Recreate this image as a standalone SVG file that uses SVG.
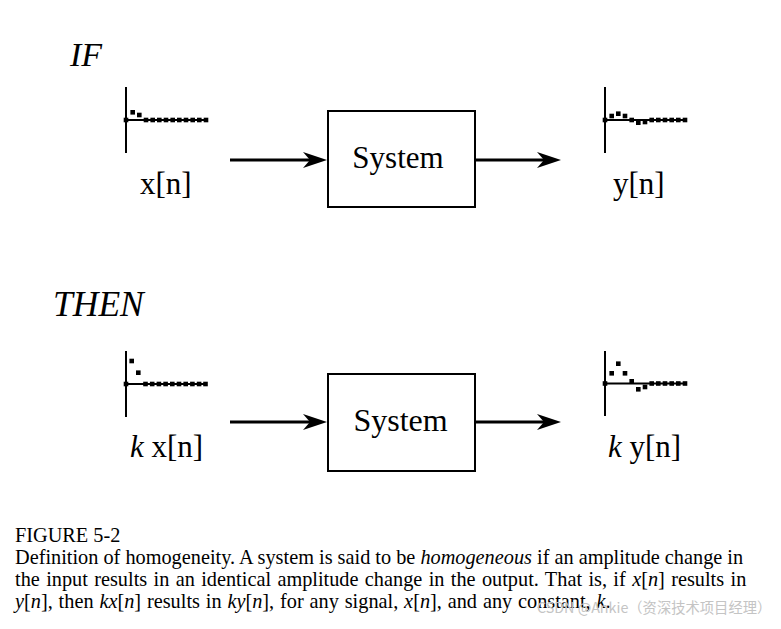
<svg xmlns="http://www.w3.org/2000/svg" width="781" height="629" viewBox="0 0 781 629">
<style>
  .t { font-family: "Liberation Serif", "Times New Roman", serif; fill: #000; }
  .it { font-style: italic; }
  .box { fill: #fff; stroke: #000; stroke-width: 2; }
  .wire { stroke: #000; stroke-width: 3; fill: none; }
  .axis { stroke: #000; stroke-width: 2; fill: none; }
  .dot { fill: #000; }
  .cap { font-family: "Liberation Serif", "Times New Roman", serif; font-size: 20.3px; fill: #000; }
  .wm { font-family: "Noto Sans CJK SC", "Noto Sans", sans-serif; font-size: 14.3px; fill: #c4c4c4; }
</style>
<defs>
  <marker id="arrow" viewBox="0 0 24 16" refX="17" refY="8" markerWidth="24" markerHeight="16" markerUnits="userSpaceOnUse" orient="auto">
    <path d="M0,0 L24,8 L0,16 L7,8 Z" fill="#000"/>
  </marker>
  <rect id="d" x="-2.3" y="-2.3" width="4.6" height="4.6" class="dot"/>
</defs>
<rect width="781" height="629" fill="#fff"/>

<text class="t it" x="70" y="66" font-size="34">IF</text>
<text class="t it" x="53" y="316" font-size="35.5">THEN</text>

<!-- top input signal -->
<g id="input-top">
  <line class="axis" x1="126" y1="87" x2="126" y2="153"/>
  <line class="axis" x1="126" y1="120" x2="207" y2="120"/>
  <use href="#d" x="126" y="120"/>
  <use href="#d" x="132.7" y="112.3"/>
  <use href="#d" x="139.3" y="115"/>
  <use href="#d" x="146" y="120"/>
  <use href="#d" x="152.7" y="120"/>
  <use href="#d" x="159.3" y="120"/>
  <use href="#d" x="166" y="120"/>
  <use href="#d" x="172.7" y="120"/>
  <use href="#d" x="179.3" y="120"/>
  <use href="#d" x="186" y="120"/>
  <use href="#d" x="192.7" y="120"/>
  <use href="#d" x="199.3" y="120"/>
  <use href="#d" x="206" y="120"/>
  <text class="t" x="140" y="194" font-size="31">x[n]</text>
</g>

<g id="system-top">
  <rect class="box" x="328" y="111" width="147" height="96"/>
  <text class="t" x="398" y="168" font-size="31" text-anchor="middle">System</text>
</g>

<!-- top output signal -->
<g id="output-top">
  <line class="axis" x1="605" y1="87" x2="605" y2="153"/>
  <line class="axis" x1="605" y1="120" x2="687" y2="120"/>
  <use href="#d" x="605" y="120"/>
  <use href="#d" x="611.7" y="116"/>
  <use href="#d" x="618.3" y="113.7"/>
  <use href="#d" x="625" y="116"/>
  <use href="#d" x="631.7" y="120"/>
  <use href="#d" x="638.3" y="122.7"/>
  <use href="#d" x="645" y="122"/>
  <use href="#d" x="651.7" y="120"/>
  <use href="#d" x="658.3" y="120"/>
  <use href="#d" x="665" y="120"/>
  <use href="#d" x="671.7" y="120"/>
  <use href="#d" x="678.3" y="120"/>
  <use href="#d" x="685" y="120"/>
  <text class="t" x="613" y="194" font-size="31">y[n]</text>
</g>

<!-- bottom input signal -->
<g id="input-bottom">
  <line class="axis" x1="126" y1="351" x2="126" y2="417"/>
  <line class="axis" x1="126" y1="384" x2="207" y2="384"/>
  <use href="#d" x="126" y="384"/>
  <use href="#d" x="131.7" y="361"/>
  <use href="#d" x="138.3" y="372.7"/>
  <use href="#d" x="145.5" y="384"/>
  <use href="#d" x="152.2" y="384"/>
  <use href="#d" x="158.9" y="384"/>
  <use href="#d" x="165.6" y="384"/>
  <use href="#d" x="172.3" y="384"/>
  <use href="#d" x="179" y="384"/>
  <use href="#d" x="185.7" y="384"/>
  <use href="#d" x="192.4" y="384"/>
  <use href="#d" x="199.1" y="384"/>
  <use href="#d" x="205.5" y="384"/>
  <text class="t" x="130" y="457" font-size="31"><tspan class="it">k</tspan> x[n]</text>
</g>

<g id="system-bottom">
  <rect class="box" x="328" y="374" width="147" height="97"/>
  <text class="t" x="400.5" y="431" font-size="32" text-anchor="middle">System</text>
</g>

<!-- bottom output signal -->
<g id="output-bottom">
  <line class="axis" x1="605" y1="351" x2="605" y2="416"/>
  <line class="axis" x1="605" y1="383.5" x2="687" y2="383.5"/>
  <use href="#d" x="605" y="383.5"/>
  <use href="#d" x="611.7" y="373.3"/>
  <use href="#d" x="618.3" y="363.7"/>
  <use href="#d" x="625" y="373.3"/>
  <use href="#d" x="631.7" y="381.3"/>
  <use href="#d" x="638.3" y="389.3"/>
  <use href="#d" x="645" y="387"/>
  <use href="#d" x="651.7" y="383.5"/>
  <use href="#d" x="658.3" y="383.5"/>
  <use href="#d" x="665" y="383.5"/>
  <use href="#d" x="671.7" y="383.5"/>
  <use href="#d" x="678.3" y="383.5"/>
  <use href="#d" x="685" y="383.5"/>
  <text class="t" x="608" y="457" font-size="31"><tspan class="it">k</tspan> y[n]</text>
</g>

<g id="connectors">
  <line class="wire" x1="230" y1="160" x2="320" y2="160" marker-end="url(#arrow)"/>
  <line class="wire" x1="475" y1="160" x2="554" y2="160" marker-end="url(#arrow)"/>
  <line class="wire" x1="230" y1="422" x2="320" y2="422" marker-end="url(#arrow)"/>
  <line class="wire" x1="475" y1="422" x2="554" y2="422" marker-end="url(#arrow)"/>
</g>

<g id="caption">
  <text class="cap" x="15" y="541.5">FIGURE 5-2</text>
  <text class="cap" x="15" y="563.5">Definition of homogeneity. A system is said to be <tspan class="it">homogeneous</tspan> if an amplitude change in</text>
  <text class="cap" x="15" y="585.5" word-spacing="1.3">the input results in an identical amplitude change in the output. That is, if <tspan class="it">x</tspan>[<tspan class="it">n</tspan>] results in</text>
  <text class="cap" x="15" y="607.5" word-spacing="0.8"><tspan class="it">y</tspan>[<tspan class="it">n</tspan>], then <tspan class="it">kx</tspan>[<tspan class="it">n</tspan>] results in <tspan class="it">ky</tspan>[<tspan class="it">n</tspan>], for any signal, <tspan class="it">x</tspan>[<tspan class="it">n</tspan>], and any constant, <tspan class="it">k</tspan>.</text>
  <text class="wm" x="537" y="613">CSDN @Ankie（资深技术项目经理）</text>
</g>
</svg>
